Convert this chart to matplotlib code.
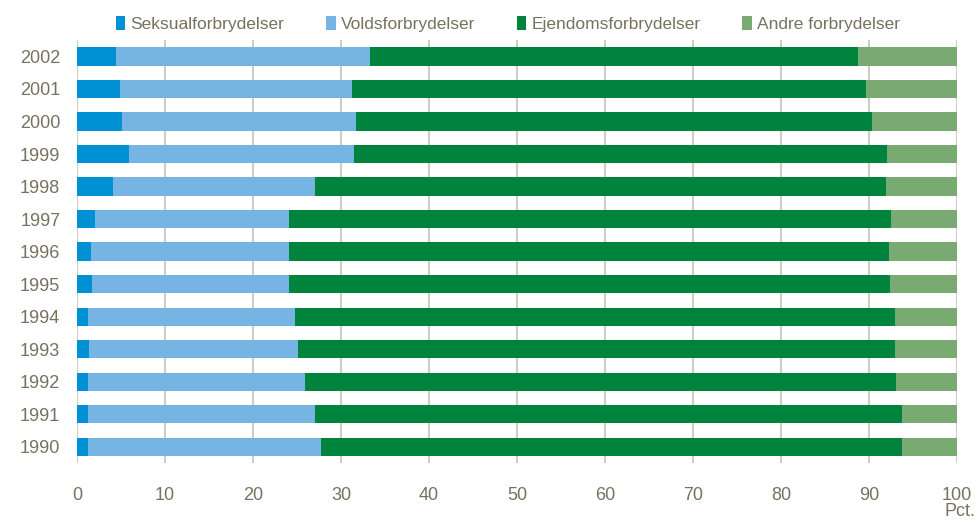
import numpy as np
import matplotlib.pyplot as plt

plt.rcParams['font.family'] = ['Liberation Sans Narrow', 'Liberation Sans', 'DejaVu Sans']

years = ['1990', '1991', '1992', '1993', '1994', '1995', '1996',
         '1997', '1998', '1999', '2000', '2001', '2002']
# cumulative end points (pct.)
seksual = np.array([1.25, 1.25, 1.25, 1.4, 1.2, 1.7, 1.6, 2.1, 4.1, 5.9, 5.15, 4.9, 4.45])
volds_end = np.array([27.7, 27.0, 25.9, 25.1, 24.8, 24.1, 24.1, 24.1, 27.1, 31.5, 31.7, 31.3, 33.3])
ejendom_end = np.array([93.75, 93.75, 93.1, 93.0, 93.0, 92.4, 92.3, 92.5, 91.9, 92.0, 90.3, 89.7, 88.75])

volds = volds_end - seksual
ejendom = ejendom_end - volds_end
andre = 100 - ejendom_end

names = ['Seksualforbrydelser', 'Voldsforbrydelser', 'Ejendomsforbrydelser', 'Andre forbrydelser']
colors = ['#0091D5', '#76B5E3', '#00843D', '#78AA72']
txt = '#76725F'

fig = plt.figure(figsize=(9.77, 5.22), dpi=100)
ax = fig.add_axes([0.0788, 0.113, 0.9007, 0.81])

y = np.arange(len(years))
left = np.zeros(len(years))
for vals, name, c in zip([seksual, volds, ejendom, andre], names, colors):
    ax.barh(y, vals, left=left, height=0.56, color=c, label=name, zorder=3)
    left = left + vals

ax.set_xlim(0, 100)
ax.set_ylim(-0.5, 12.5)
ax.set_xticks(np.arange(0, 101, 10))
ax.set_yticks(y)
ax.set_yticklabels(years)
ax.grid(axis='x', color='#CFCEC6', linewidth=1.5, zorder=0)
for s in ax.spines.values():
    s.set_visible(False)
ax.tick_params(length=0, labelsize=13, labelcolor=txt)
ax.tick_params(axis='x', pad=17)
ax.tick_params(axis='y', pad=12)
fig.text(0.998, 0.004, 'Pct.', ha='right', va='bottom', fontsize=13, color=txt)

fig.legend(loc='upper center', bbox_to_anchor=(0.52, 1.0), ncol=4, frameon=False,
           fontsize=12.5, labelcolor=txt, handlelength=0.55, handleheight=0.9,
           handletextpad=0.3, columnspacing=2.4)

fig.savefig('out.png', dpi=100)
